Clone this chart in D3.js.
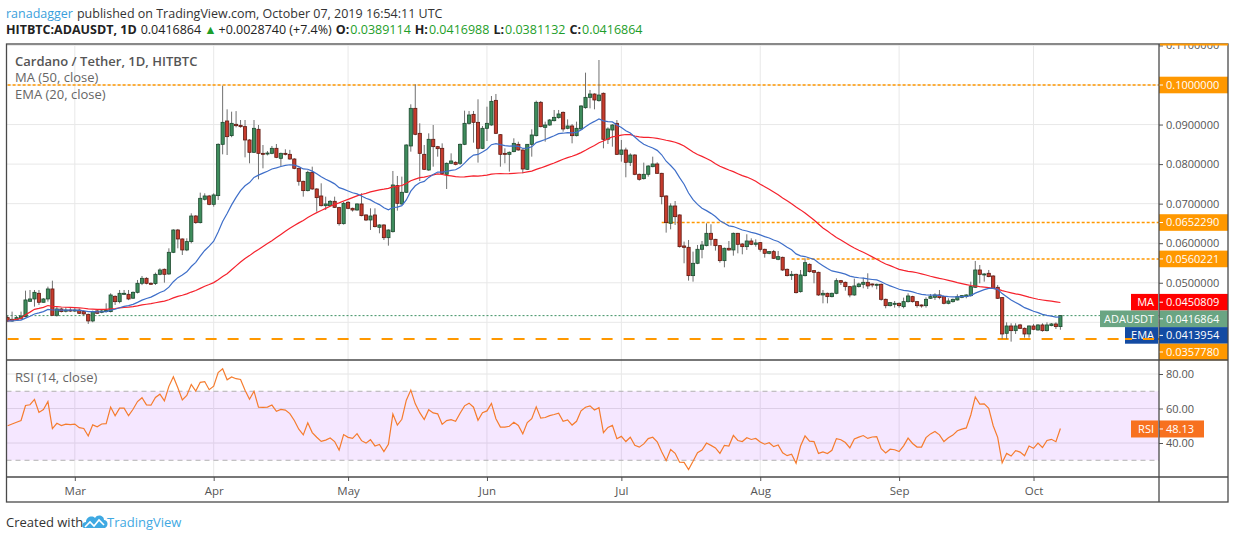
<!DOCTYPE html>
<html>
<head>
<meta charset="utf-8">
<script src="https://cdnjs.cloudflare.com/ajax/libs/d3/7.8.5/d3.min.js"></script>
<style>
body { margin: 0; background: #fff; }
svg { display: block; }
text { font-family: "Open Sans", "Noto Sans", sans-serif; }
</style>
</head>
<body>
<script>
// daily candles, HITBTC ADA/USDT, from 2019-02-14 to 2019-10-07
var firstDay = '2019-02-14';
var opens = [0.04118,0.04034,0.04059,0.04101,0.04143,0.04531,0.0459,0.04733,0.04506,0.0459,
  0.04843,0.04177,0.04337,0.0428,0.0431,0.043,0.0431,0.0427,0.04202,0.04034,
  0.04287,0.04253,0.0427,0.0427,0.04657,0.04522,0.04708,0.04708,0.0461,0.04758,
  0.04986,0.05112,0.04986,0.0498,0.05213,0.0534,0.05222,0.0577,0.06334,0.06107,
  0.05829,0.0604,0.06688,0.0652,0.0711,0.07194,0.06983,0.07203,0.085,0.0909,
  0.0872,0.09006,0.0898,0.08947,0.0861,0.08298,0.0888,0.08272,0.0826,0.08272,
  0.08399,0.08146,0.08272,0.08247,0.08129,0.07893,0.07565,0.07329,0.07792,0.07371,
  0.07194,0.06949,0.06949,0.07059,0.06899,0.06494,0.07034,0.06882,0.0684,0.06992,
  0.06714,0.06587,0.06714,0.06402,0.06461,0.0614,0.06292,0.07455,0.06992,0.07287,
  0.08458,0.0941,0.08778,0.08247,0.07851,0.08627,0.08441,0.08399,0.07742,0.0802,
  0.08045,0.0802,0.085,0.09031,0.09258,0.09056,0.08399,0.08905,0.08989,0.09612,
  0.08744,0.08272,0.08247,0.08315,0.085,0.08357,0.07868,0.085,0.08719,0.09562,
  0.0893,0.08989,0.09098,0.09174,0.09309,0.08905,0.08964,0.08719,0.08888,0.09427,
  0.09688,0.09772,0.09604,0.0979,0.08627,0.08862,0.09031,0.08247,0.08357,0.08045,
  0.0823,0.07742,0.07632,0.07742,0.07935,0.08003,0.07767,0.07194,0.06503,0.06941,
  0.06714,0.0593,0.05896,0.0518,0.05492,0.05846,0.05938,0.0625,0.06098,0.05938,
  0.05559,0.05871,0.05829,0.0625,0.0598,0.05913,0.06056,0.05972,0.06014,0.05846,
  0.05744,0.05787,0.05593,0.05643,0.0534,0.0518,0.05213,0.04775,0.0518,0.05466,
  0.05306,0.05264,0.04691,0.04733,0.04649,0.04733,0.05053,0.05011,0.04902,0.04691,
  0.04902,0.04961,0.05011,0.04969,0.04952,0.04961,0.04581,0.04421,0.04455,0.0448,
  0.04396,0.04522,0.04649,0.04522,0.04438,0.04421,0.04607,0.04632,0.04691,0.04649,
  0.0448,0.04522,0.04565,0.04632,0.04649,0.04674,0.04885,0.05323,0.05197,0.05239,
  0.05171,0.04885,0.04624,0.03722,0.03907,0.03789,0.03933,0.03848,0.03705,0.03907,
  0.03806,0.03933,0.03789,0.03916,0.03958,0.0389114];
var highs = [0.0416,0.0427,0.0416,0.0427,0.048,0.04817,0.04817,0.04817,0.0461,0.04902,
  0.05053,0.04396,0.0437,0.0438,0.0437,0.0436,0.0435,0.043,0.0422,0.04295,
  0.0431,0.0431,0.0448,0.04733,0.0468,0.04817,0.04817,0.04817,0.0478,0.0507,
  0.05171,0.0514,0.0501,0.05256,0.05365,0.0536,0.05871,0.06351,0.0636,0.0612,
  0.06124,0.06756,0.0671,0.07278,0.07261,0.0722,0.07261,0.08525,0.09983,0.09385,
  0.09326,0.0934,0.09115,0.09115,0.0863,0.09115,0.08989,0.08483,0.0833,0.08458,
  0.08508,0.0829,0.08374,0.0836,0.0815,0.0791,0.0758,0.07834,0.07935,0.0739,
  0.07514,0.07177,0.0709,0.07177,0.0692,0.07051,0.0706,0.069,0.0701,0.07261,
  0.0673,0.06882,0.06882,0.0648,0.0648,0.0635,0.07826,0.077,0.07683,0.085,
  0.09511,0.10017,0.09031,0.08483,0.08778,0.08989,0.0846,0.08525,0.0804,0.08272,
  0.0807,0.0852,0.09351,0.09343,0.09343,0.09638,0.08964,0.09452,0.09722,0.09773,
  0.0876,0.08399,0.0832,0.08652,0.08567,0.0837,0.08508,0.08879,0.09604,0.09596,
  0.09073,0.0914,0.09368,0.09368,0.0933,0.09132,0.09014,0.09073,0.0949,0.10312,
  0.09874,0.0979,0.10632,0.0981,0.0893,0.0901,0.09115,0.0861,0.08416,0.08272,
  0.0825,0.0776,0.08037,0.0797,0.08188,0.08045,0.0778,0.0721,0.07008,0.07067,
  0.0673,0.0604,0.06081,0.05787,0.05955,0.06056,0.06503,0.06478,0.0611,0.0595,
  0.0589,0.06056,0.0627,0.0626,0.06,0.06225,0.06124,0.06098,0.0603,0.0586,
  0.058,0.05829,0.05803,0.0566,0.0536,0.05298,0.0523,0.05323,0.05618,0.0549,
  0.0532,0.0528,0.04817,0.0475,0.0475,0.05112,0.0507,0.0503,0.0492,0.05104,
  0.05003,0.05129,0.05239,0.0498,0.0498,0.0498,0.046,0.0451,0.04539,0.045,
  0.04624,0.04733,0.0467,0.0454,0.0445,0.04632,0.04716,0.04733,0.04817,0.0467,
  0.04607,0.046,0.04708,0.0469,0.0471,0.05028,0.0555,0.05449,0.0524,0.05323,
  0.0519,0.04944,0.0464,0.04,0.03975,0.03975,0.0396,0.0387,0.0392,0.03958,
  0.0395,0.03975,0.04,0.0398,0.04,0.0416988];
var lows = [0.0401,0.0401,0.0405,0.0406,0.0413,0.0452,0.04396,0.04438,0.045,0.04522,
  0.0417,0.04143,0.0425,0.0425,0.0426,0.0426,0.0421,0.0418,0.03958,0.04,
  0.0421,0.0423,0.0425,0.0425,0.04438,0.0448,0.0469,0.0456,0.0459,0.0473,
  0.0494,0.0496,0.0495,0.04944,0.0519,0.05003,0.052,0.0575,0.05871,0.05702,
  0.058,0.05997,0.0649,0.065,0.0708,0.0696,0.06924,0.07093,0.08247,0.0823,
  0.0868,0.0893,0.0892,0.08171,0.0802,0.0828,0.07615,0.07893,0.0822,0.0825,
  0.0815,0.07952,0.0822,0.0811,0.0787,0.07455,0.07177,0.0731,0.0735,0.06798,
  0.0693,0.0684,0.0693,0.0689,0.06444,0.0647,0.0686,0.068,0.0682,0.0668,
  0.0656,0.06334,0.064,0.0625,0.06081,0.05938,0.0627,0.06823,0.0697,0.0727,
  0.08315,0.0873,0.07573,0.0785,0.0783,0.07935,0.08188,0.0775,0.07371,0.08,
  0.0797,0.0798,0.0848,0.09,0.08542,0.08037,0.0838,0.08584,0.0897,0.0876,
  0.07935,0.0802,0.07809,0.083,0.0834,0.07767,0.0785,0.08188,0.087,0.0893,
  0.08567,0.0897,0.0908,0.0915,0.0882,0.0888,0.08525,0.087,0.0887,0.094,
  0.0941,0.09385,0.0958,0.08399,0.08508,0.08441,0.0823,0.08062,0.07666,0.07952,
  0.0772,0.07582,0.0761,0.07683,0.0792,0.0775,0.06983,0.06267,0.06351,0.06461,
  0.0589,0.05492,0.05053,0.05028,0.0547,0.05618,0.0592,0.05938,0.05812,0.05508,
  0.0539,0.0581,0.05685,0.05744,0.05719,0.05829,0.0595,0.05913,0.05787,0.05635,
  0.0572,0.056,0.0557,0.053,0.0516,0.0507,0.0473,0.0475,0.0516,0.0526,
  0.04986,0.0467,0.0448,0.0448,0.0463,0.0471,0.04944,0.048,0.04632,0.0467,
  0.0488,0.0486,0.04843,0.04885,0.04834,0.04548,0.04354,0.044,0.04371,0.04371,
  0.04354,0.045,0.045,0.04371,0.04371,0.04371,0.0459,0.04565,0.04581,0.04455,
  0.04455,0.045,0.0455,0.0461,0.04607,0.0465,0.0487,0.04986,0.05028,0.0514,
  0.0484,0.0459,0.03579,0.03579,0.03511,0.03705,0.0383,0.03612,0.03612,0.038,
  0.0379,0.03764,0.0377,0.039,0.03831,0.0381132];
var closes = [0.04034,0.04076,0.04118,0.0416,0.04565,0.0459,0.04758,0.04506,0.0459,0.04843,
  0.04177,0.04337,0.0427,0.0431,0.043,0.0431,0.04228,0.04211,0.04034,0.0427,
  0.04228,0.04287,0.04295,0.04691,0.04522,0.04733,0.04733,0.0459,0.04758,0.04986,
  0.05112,0.04986,0.0498,0.05213,0.05323,0.05213,0.0577,0.06334,0.06107,0.05829,
  0.0604,0.06688,0.0652,0.07135,0.07194,0.06983,0.0722,0.085,0.09056,0.08694,
  0.09031,0.08972,0.08947,0.0861,0.08298,0.08905,0.08272,0.0826,0.0828,0.08399,
  0.08171,0.08272,0.08247,0.08129,0.07893,0.07565,0.07329,0.07792,0.07371,0.07152,
  0.06949,0.06992,0.07059,0.06907,0.06494,0.07008,0.06882,0.0684,0.06992,0.06697,
  0.06587,0.06688,0.06419,0.06461,0.0614,0.06334,0.07472,0.07008,0.07287,0.08483,
  0.0941,0.08753,0.08272,0.07868,0.08627,0.08441,0.0839,0.07767,0.0802,0.08079,
  0.07994,0.085,0.09031,0.09242,0.09056,0.08399,0.08905,0.09031,0.09587,0.08778,
  0.08247,0.08247,0.08298,0.08525,0.08357,0.07876,0.085,0.08736,0.09562,0.08947,
  0.08989,0.09115,0.09182,0.09267,0.08888,0.08964,0.08719,0.08905,0.09469,0.09688,
  0.09772,0.09621,0.09747,0.08627,0.08888,0.08989,0.08247,0.08357,0.08045,0.0823,
  0.07742,0.07615,0.07742,0.07952,0.08003,0.07767,0.07177,0.0652,0.06941,0.06671,
  0.05913,0.05896,0.0518,0.05492,0.05846,0.05955,0.0625,0.06098,0.05938,0.05559,
  0.05871,0.05829,0.0625,0.05972,0.05913,0.06056,0.05972,0.06006,0.05846,0.05744,
  0.05787,0.05618,0.0566,0.05323,0.0518,0.05213,0.0475,0.05197,0.05508,0.05281,
  0.05264,0.04691,0.04733,0.04649,0.04733,0.05053,0.05011,0.04902,0.04691,0.04919,
  0.04969,0.05011,0.04919,0.04952,0.04961,0.04581,0.04421,0.04497,0.0448,0.04421,
  0.04522,0.04666,0.04522,0.04421,0.04421,0.04581,0.04649,0.04691,0.04624,0.0448,
  0.04539,0.04581,0.04649,0.04674,0.04691,0.04902,0.05323,0.05213,0.05222,0.05155,
  0.0486,0.04607,0.03705,0.03907,0.03789,0.03907,0.03848,0.03705,0.03907,0.03823,
  0.03933,0.03789,0.03933,0.03958,0.03891,0.0416864];

var priceTicks = [0.04, 0.05, 0.06, 0.07, 0.08, 0.09, 0.11];
var rsiTicks = [40, 60, 80];
var monthDays = ['2019-03-01','2019-04-01','2019-05-01','2019-06-01','2019-07-01','2019-08-01','2019-09-01','2019-10-01'];
var monthLabels = ['Mar','Apr','May','Jun','Jul','Aug','Sep','Oct'];
// drawn horizontal levels
var levelValues = [0.1, 0.0652290, 0.0560221, 0.0357780];
var levelStart = ['2019-02-14','2019-07-10','2019-08-08','2019-02-14'];
var lastMA = 0.0450809, lastEMA = 0.0413954, lastRSI = 48.13;

var W = 1234, H = 540;
var left = 6.5, right = 1159, axisRight = 1228;
var top0 = 44, mainBottom = 360, rsiBottom = 477, frameBottom = 502;

var parse = d3.utcParse('%Y-%m-%d');
var t0 = parse(firstDay);
var days = opens.map(function(d, i) { return d3.utcDay.offset(t0, i); });

var x = d3.scaleUtc().domain([days[0], days[days.length - 1]]).range([7.6, 1060.4]);
var y = d3.scaleLinear().domain([0.04, 0.1]).range([322.3, 85]);
var yr = d3.scaleLinear().domain([40, 80]).range([443, 374]);

// indicators
var ema = [], ma = [], rsi = [];
var k = 2 / 21;
closes.forEach(function(c, i) {
  ema[i] = i == 0 ? c : c * k + ema[i - 1] * (1 - k);
  ma[i] = d3.mean(closes.slice(Math.max(0, i - 49), i + 1));
});
var seed = d3.mean(d3.range(1, 15), function(i) { return Math.abs(closes[i] - closes[i - 1]); }) / 2;
var ag = seed, al = seed;
rsi[0] = 50;
for (var i = 1; i < closes.length; i++) {
  var ch = closes[i] - closes[i - 1];
  ag = (ag * 13 + Math.max(ch, 0)) / 14;
  al = (al * 13 + Math.max(-ch, 0)) / 14;
  rsi[i] = 100 - 100 / (1 + ag / al);
}

var svg = d3.select('body').append('svg').attr('width', W).attr('height', H);
var defs = svg.append('defs');
defs.append('clipPath').attr('id', 'clip-main').append('rect')
  .attr('x', left).attr('y', top0).attr('width', right - left).attr('height', mainBottom - top0);
defs.append('clipPath').attr('id', 'clip-rsi').append('rect')
  .attr('x', left).attr('y', mainBottom).attr('width', right - left).attr('height', rsiBottom - mainBottom);
defs.append('clipPath').attr('id', 'clip-axis').append('rect')
  .attr('x', 0).attr('y', top0).attr('width', W - right).attr('height', mainBottom - top0);

// grid
var grid = svg.append('g');
grid.selectAll('line.h').data(priceTicks.concat([0.1])).enter().append('line')
  .attr('x1', left).attr('x2', right).attr('y1', y).attr('y2', y)
  .attr('stroke', '#e8e8e8');
grid.selectAll('line.r').data(rsiTicks).enter().append('line')
  .attr('x1', left).attr('x2', right).attr('y1', yr).attr('y2', yr)
  .attr('stroke', '#e4e4e4');
grid.selectAll('line.v').data(monthDays).enter().append('line')
  .attr('x1', function(d) { return x(parse(d)); }).attr('x2', function(d) { return x(parse(d)); })
  .attr('y1', top0).attr('y2', rsiBottom).attr('stroke', '#e8e8e8');

// RSI band
var rsiG = svg.append('g').attr('clip-path', 'url(#clip-rsi)');
rsiG.append('rect').attr('x', left).attr('width', right - left)
  .attr('y', yr(70)).attr('height', yr(30) - yr(70)).attr('fill', '#9915ff').attr('fill-opacity', 0.1);
[70, 30].forEach(function(v) {
  rsiG.append('line').attr('x1', left).attr('x2', right).attr('y1', yr(v)).attr('y2', yr(v))
    .attr('stroke', '#b0b0b0').attr('stroke-dasharray', '5,4');
});
rsiG.append('path').datum(rsi)
  .attr('d', d3.line().x(function(d, i) { return x(days[i]); }).y(function(d) { return yr(d); }))
  .attr('fill', 'none').attr('stroke', '#f57c2e').attr('stroke-width', 1.2);

// main pane
var main = svg.append('g').attr('clip-path', 'url(#clip-main)');

levelValues.forEach(function(v, j) {
  var long = v == 0.0357780;
  main.append('line')
    .attr('x1', x(parse(levelStart[j]))).attr('x2', right)
    .attr('y1', y(v)).attr('y2', y(v))
    .attr('stroke', '#ff9800')
    .attr('stroke-width', long ? 2 : 1.6)
    .attr('stroke-dasharray', long ? '11,11' : '3,2');
});
main.append('line').attr('x1', left).attr('x2', right)
  .attr('y1', y(closes[closes.length - 1])).attr('y2', y(closes[closes.length - 1]))
  .attr('stroke', '#3d9163').attr('stroke-dasharray', '2,2');

var idx = d3.range(opens.length);
main.selectAll('line.wick').data(idx).enter().append('line')
  .attr('x1', function(i) { return x(days[i]); }).attr('x2', function(i) { return x(days[i]); })
  .attr('y1', function(i) { return y(highs[i]); }).attr('y2', function(i) { return y(lows[i]); })
  .attr('stroke', '#707070').attr('stroke-width', 1);
main.selectAll('rect.body').data(idx).enter().append('rect')
  .attr('x', function(i) { return x(days[i]) - 1.6; })
  .attr('width', 3.2)
  .attr('y', function(i) { return y(Math.max(opens[i], closes[i])); })
  .attr('height', function(i) { return Math.max(1, Math.abs(y(opens[i]) - y(closes[i]))); })
  .attr('fill', function(i) { return closes[i] >= opens[i] ? '#3e8c5c' : '#c63b2d'; })
  .attr('stroke', function(i) { return closes[i] >= opens[i] ? '#1d4a2f' : '#5e1a12'; })
  .attr('stroke-width', 0.8);

var line = d3.line().x(function(d, i) { return x(days[i]); }).y(function(d) { return y(d); });
main.append('path').datum(ma).attr('d', line)
  .attr('fill', 'none').attr('stroke', '#f5222d').attr('stroke-width', 1.2);
main.append('path').datum(ema).attr('d', line)
  .attr('fill', 'none').attr('stroke', '#3f6fc9').attr('stroke-width', 1.2);

// legends
function legend(txt, yy, col, size) {
  return svg.append('text').attr('x', 15).attr('y', yy).attr('fill', col)
    .attr('font-size', size).attr('dy', '0.35em').text(txt);
}
legend('Cardano / Tether, 1D, HITBTC', 61, '#555', 13).attr('font-weight', 600);
legend('MA (50, close)', 77.5, '#666', 13);
legend('EMA (20, close)', 94, '#666', 13);
legend('RSI (14, close)', 377, '#666', 13);

// price axis
var yAxisG = svg.append('g').attr('transform', 'translate(' + right + ',0)')
  .attr('clip-path', 'url(#clip-axis)')
  .call(d3.axisRight(y).tickValues(priceTicks).tickSize(4).tickPadding(3).tickFormat(d3.format('.7f')));
yAxisG.select('.domain').remove();
yAxisG.selectAll('line').attr('stroke', '#555');
yAxisG.selectAll('text').attr('fill', '#555').attr('font-size', 11)
  .attr('font-family', '"Open Sans", sans-serif');

var rAxisG = svg.append('g').attr('transform', 'translate(' + right + ',0)')
  .call(d3.axisRight(yr).tickValues(rsiTicks).tickSize(4).tickPadding(3).tickFormat(d3.format('.2f')));
rAxisG.select('.domain').remove();
rAxisG.selectAll('line').attr('stroke', '#555');
rAxisG.selectAll('text').attr('fill', '#555').attr('font-size', 11)
  .attr('font-family', '"Open Sans", sans-serif');

var xAxisG = svg.append('g').attr('transform', 'translate(0,' + rsiBottom + ')')
  .call(d3.axisBottom(x).tickValues(monthDays.map(parse)).tickSize(4).tickPadding(6)
    .tickFormat(function(d, i) { return monthLabels[i]; }));
xAxisG.select('.domain').remove();
xAxisG.selectAll('line').attr('stroke', '#555');
xAxisG.selectAll('text').attr('fill', '#555').attr('font-size', 11.5)
  .attr('font-family', '"Open Sans", sans-serif');

// price tags with simple collision push-down
var tags = [
  { v: 0.1, label: '0.1000000', col: '#ff9800' },
  { v: 0.0652290, label: '0.0652290', col: '#ff9800' },
  { v: 0.0560221, label: '0.0560221', col: '#ff9800' },
  { v: lastMA, label: d3.format('.7f')(lastMA), col: '#ff0000', name: 'MA', nameW: 28 },
  { v: closes[closes.length - 1], label: d3.format('.7f')(closes[closes.length - 1]), col: '#6aa583', name: 'ADAUSDT', nameW: 59 },
  { v: lastEMA, label: d3.format('.7f')(lastEMA), col: '#134ba3', name: 'EMA', nameW: 34 },
  { v: 0.0357780, label: '0.0357780', col: '#ff9800' }
];
var th = 16.6, prev = -1e9;
tags.forEach(function(t) { t.y = Math.max(y(t.v), prev + th); prev = t.y; });
yAxisG.selectAll('.tick').each(function(d) {
  var yy = y(d);
  var hit = tags.some(function(t) { return Math.abs(t.y - yy) < 12; });
  if (hit) d3.select(this).select('text').remove();
});
var tagG = svg.append('g');
tags.forEach(function(t) {
  if (t.name) {
    tagG.append('rect').attr('x', right - t.nameW).attr('y', t.y - th / 2).attr('width', t.nameW - 1).attr('height', th)
      .attr('fill', t.col);
    tagG.append('text').attr('x', right - 5).attr('y', t.y).attr('dy', '0.35em').attr('text-anchor', 'end')
      .attr('fill', '#fff').attr('font-size', 11).text(t.name);
  }
  tagG.append('rect').attr('x', right).attr('y', t.y - th / 2).attr('width', axisRight - right).attr('height', th)
    .attr('fill', t.col);
  tagG.append('line').attr('x1', right).attr('x2', right + 4).attr('y1', t.y).attr('y2', t.y).attr('stroke', '#fff');
  tagG.append('text').attr('x', right + 7).attr('y', t.y).attr('dy', '0.35em')
    .attr('fill', '#fff').attr('font-size', 11).text(t.label);
});
// support dash runs across the EMA tag like in the source
tagG.append('line').attr('x1', right - 34).attr('x2', right - 2).attr('y1', y(0.0357780)).attr('y2', y(0.0357780))
  .attr('stroke', '#ff9800').attr('stroke-width', 2).attr('stroke-dasharray', '11,11').attr('stroke-dashoffset', 4);

// RSI tag
var ry = yr(lastRSI);
tagG.append('rect').attr('x', right - 28).attr('y', ry - 8.5).attr('width', 27).attr('height', 17).attr('fill', '#f7711f');
tagG.append('text').attr('x', right - 5).attr('y', ry).attr('dy', '0.35em').attr('text-anchor', 'end')
  .attr('fill', '#fff').attr('font-size', 11).text('RSI');
tagG.append('rect').attr('x', right).attr('y', ry - 8.5).attr('width', 45).attr('height', 17).attr('fill', '#f7711f');
tagG.append('line').attr('x1', right).attr('x2', right + 4).attr('y1', ry).attr('y2', ry).attr('stroke', '#fff');
tagG.append('text').attr('x', right + 7).attr('y', ry).attr('dy', '0.35em')
  .attr('fill', '#fff').attr('font-size', 11).text(d3.format('.2f')(lastRSI));

// frame
var frame = svg.append('g').attr('stroke', '#4a4a4a').attr('stroke-width', 1.3).attr('fill', 'none');
frame.append('rect').attr('x', left).attr('y', top0).attr('width', axisRight - left).attr('height', frameBottom - top0);
frame.append('line').attr('x1', left).attr('x2', axisRight).attr('y1', mainBottom).attr('y2', mainBottom);
frame.append('line').attr('x1', left).attr('x2', axisRight).attr('y1', rsiBottom).attr('y2', rsiBottom);
frame.append('line').attr('x1', right).attr('x2', right).attr('y1', top0).attr('y2', frameBottom);
svg.append('line').attr('x1', right + 1).attr('x2', axisRight).attr('y1', top0 + 0.5).attr('y2', top0 + 0.5)
  .attr('stroke', '#ff9800').attr('stroke-width', 2);

// header, placed piece by piece
function piece(g, txt, xx, yy, opt) {
  var t = g.append('text').attr('x', xx).attr('y', yy).attr('font-size', 12.5)
    .attr('fill', opt.col || '#222').attr('font-weight', opt.bold ? 700 : 400).text(txt);
  return xx + t.node().getComputedTextLength();
}
var head = svg.append('g');
var hx = piece(head, 'ranadagger', 6, 17.5, { col: '#3a9fdc' });
piece(head, 'published on TradingView.com, October 07, 2019 16:54:11 UTC', hx + 4, 17.5, { col: '#333' });

hx = piece(head, 'HITBTC:ADAUSDT, 1D', 6, 34, { bold: true });
hx = piece(head, '0.0416864', hx + 4, 34, {});
hx = piece(head, '\u25B2', hx + 3, 34, { col: '#1e9e2a' });
hx = piece(head, '+0.0028740 (+7.4%)', hx + 2, 34, {});
[['O:', '0.0389114'], ['H:', '0.0416988'], ['L:', '0.0381132'], ['C:', '0.0416864']].forEach(function(p) {
  hx = piece(head, p[0], hx + 4, 34, { bold: true });
  hx = piece(head, p[1], hx + 1, 34, { col: '#1e9e2a' });
});

// footer
svg.append('text').attr('x', 6).attr('y', 527).attr('font-size', 13).attr('fill', '#333').text('Created with');
var logo = svg.append('g').attr('transform', 'translate(82,513)');
logo.append('path')
  .attr('d', 'M2,15 C-1,14 0,9 4,9 C4,4 10,2 13,5 C15,1 22,2 22,7 C26,7 27,13 23,15 Z')
  .attr('fill', '#3fa9e2');
logo.append('polyline').attr('points', '3,14 8,9 12,13 17,7 22,12')
  .attr('fill', 'none').attr('stroke', '#fff').attr('stroke-width', 1.6);
svg.append('text').attr('x', 107).attr('y', 527).attr('font-size', 13).attr('fill', '#3fa9e2').text('TradingView');
</script>
</body>
</html>
